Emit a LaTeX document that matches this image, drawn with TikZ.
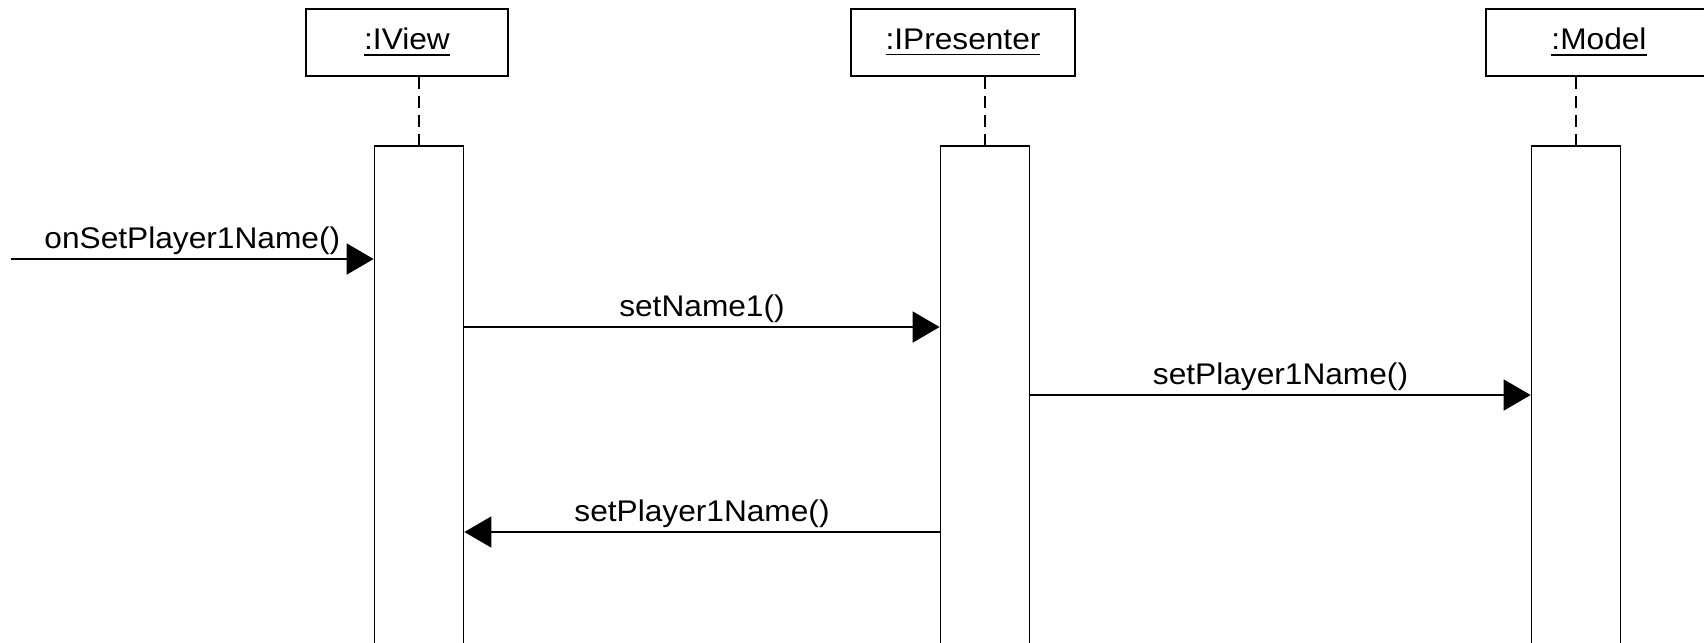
\documentclass[tikz,border=0pt]{standalone}
\usepackage{fontspec}
\setmainfont{Liberation Sans}[FakeStretch=1.06]
\usetikzlibrary{arrows.meta}

\begin{document}
\begin{tikzpicture}[x=0.1mm, y=-0.1mm, line width=0.5pt,
  font=\fontsize{8.5}{10}\selectfont,
  head/.style={draw, minimum height=6.7mm, inner sep=0pt},
  bar/.style={draw, minimum width=8.9mm, minimum height=56mm, anchor=north, inner sep=0pt},
  life/.style={dash pattern=on 1.2mm off 0.7mm},
  msg/.style={-{Triangle[length=2.7mm, width=3.1mm]}},
  lbl/.style={above, inner sep=1pt}]
  \useasboundingbox (0,0) rectangle (1704,642);
  \clip (0,0) rectangle (1704,642);
  % lifelines
  \foreach \n/\t/\bx/\w/\lx in {view/:IView/407/20.2/419, pres/:IPresenter/963/22.4/985, model/:Model/1599/22.6/1576} {
    \node[head, minimum width=\w mm] (\n) at (\bx,42.5) {\underline{\t}};
    \node[bar] (\n-act) at (\lx,145) {};
    \draw[life] (\n.south -| \n-act.north) -- (\n-act.north);
  }
  % messages
  \coordinate (start) at (11,259);
  \coordinate (m2) at (0,327);
  \coordinate (m3) at (0,395);
  \coordinate (m4) at (0,532);
  \draw[msg] (start) -- (start -| view-act.west) node[lbl, midway] {onSetPlayer1Name()};
  \draw[msg] (view-act.east |- m2) -- (pres-act.west |- m2) node[lbl, midway] {setName1()};
  \draw[msg] (pres-act.east |- m3) -- (model-act.west |- m3) node[lbl, midway] {setPlayer1Name()};
  \draw[msg] (pres-act.west |- m4) -- (view-act.east |- m4) node[lbl, midway] {setPlayer1Name()};
\end{tikzpicture}
\end{document}
